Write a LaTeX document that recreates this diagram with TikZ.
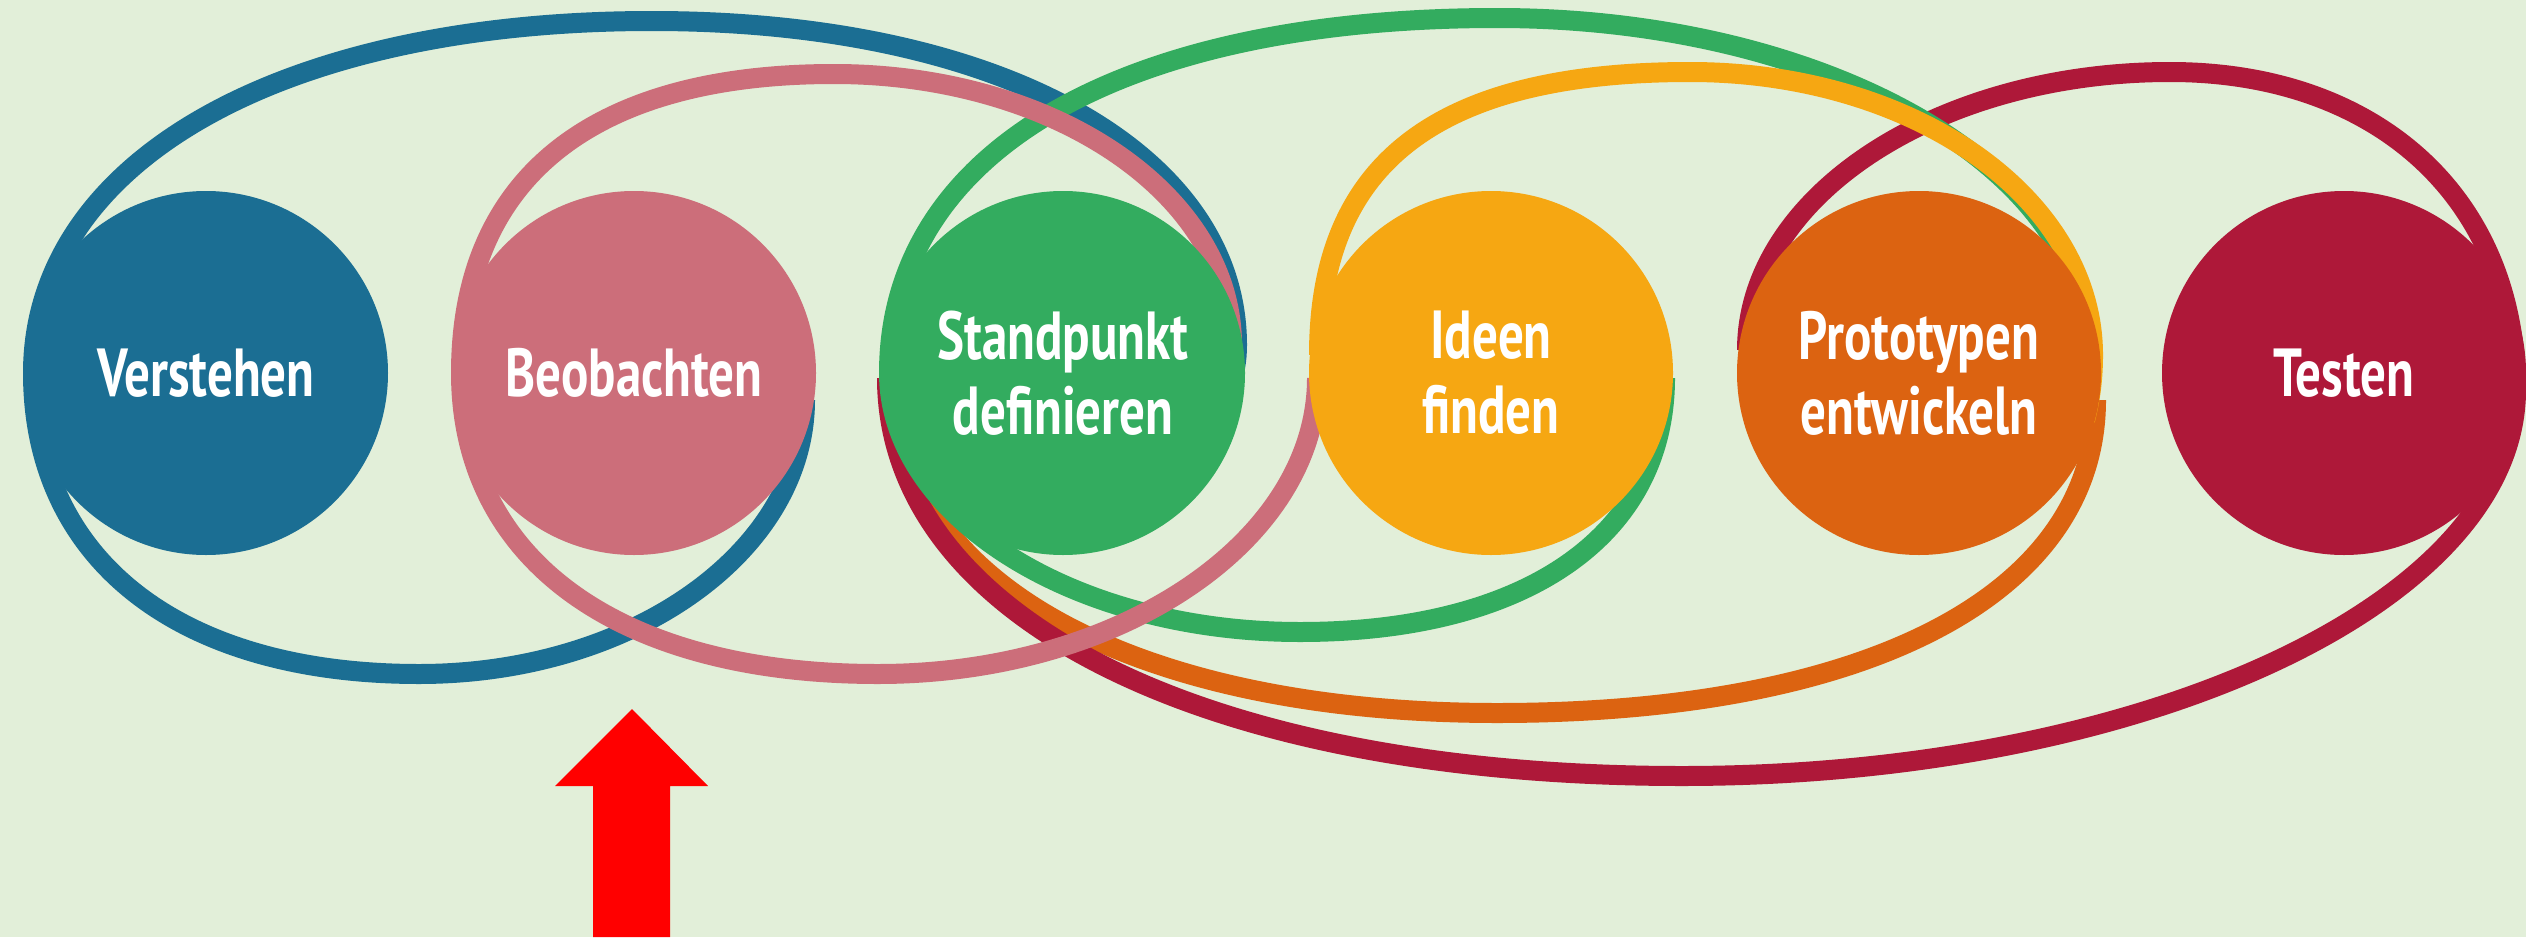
\documentclass[tikz,border=0pt]{standalone}
\usepackage{fontspec}
\setmainfont{PT Sans}
\definecolor{bgc}{HTML}{E2EFD9}
\definecolor{cblue}{HTML}{1B6E93}
\definecolor{cpink}{HTML}{CC6E7A}
\definecolor{cgreen}{HTML}{33AC5F}
\definecolor{cyellow}{HTML}{F6A712}
\definecolor{corange}{HTML}{DC6311}
\definecolor{cred}{HTML}{AE1839}
\definecolor{carrow}{HTML}{FF0000}
\begin{document}
\begin{tikzpicture}[x=1pt,y=-1pt,
  ring/.style={line width=20pt},
  phase/.style={circle, minimum size=364pt, inner sep=0pt, draw=none},
  phasetext/.style={text=white, align=center, xscale=0.75, font=\bfseries\fontsize{68}{75}\selectfont}]
\fill[bgc] (0,0) rectangle (2526,937);
\useasboundingbox (0,0) rectangle (2526,937);
% rings
\draw[ring, cblue] (805,400) .. controls (805,551) and (633,674) .. (419,674)
 .. controls (179,674) and (33,560) .. (33,373)
 .. controls (33,162) and (280,21) .. (652,21)
 .. controls (1004,21) and (1237,155) .. (1237,345)
 .. controls (1237,375) and (1228,400) .. (1200,430);
\draw[ring, corange] (2096,400) .. controls (2096,594) and (1869,713) .. (1497,713)
 .. controls (1136,713) and (896,582) .. (896,385);
\draw[ring, cred] (1747,350) .. controls (1747,197) and (1936,72) .. (2170,72)
 .. controls (2378,72) and (2516,199) .. (2516,390)
 .. controls (2516,603) and (2143,776) .. (1682,776)
 .. controls (1204,776) and (887,617) .. (887,378);
\draw[ring, cgreen] (2087,350) .. controls (2087,167) and (1824,18) .. (1497,18)
 .. controls (1119,18) and (889,153) .. (889,373)
 .. controls (889,516) and (1073,632) .. (1300,632)
 .. controls (1527,632) and (1665,535) .. (1665,378);
\draw[ring, cyellow] (1319,355) .. controls (1319,163) and (1437,72) .. (1690,72)
 .. controls (1915,72) and (2093,199) .. (2093,355)
 .. controls (2093,380) and (2090,400) .. (2085,420);
\draw[ring, cpink] (1232,345) .. controls (1232,195) and (1055,74) .. (834,74)
 .. controls (591,74) and (461,179) .. (461,373)
 .. controls (461,560) and (619,674) .. (878,674)
 .. controls (1120,674) and (1317,541) .. (1317,378);
% circles
\node[phase, fill=cblue] (verstehen) at (206,373) {};
\node[phase, fill=cpink] (beobachten) at (634,373) {};
\node[phase, fill=cgreen] (standpunkt) at (1063,373) {};
\node[phase, fill=cyellow] (ideen) at (1491,373) {};
\node[phase, fill=corange] (prototypen) at (1919,373) {};
\node[phase, fill=cred] (testen) at (2344,373) {};
% texts
\node[phasetext] (tverstehen) at (verstehen.center) {Verstehen};
\node[phasetext] (tbeobachten) at (beobachten.center) {Beobachten};
\node[phasetext] (tstandpunkt) at (standpunkt.center) {Standpunkt\\definieren};
\node[phasetext] (tideen) at (ideen.center) {Ideen\\finden};
\node[phasetext] (tprototypen) at (prototypen.center) {Prototypen\\entwickeln};
\node[phasetext] (ttesten) at (testen.center) {Testen};
% arrow
\fill[carrow] (632,709) -- (708,786) -- (670,786) -- (670,937) -- (593,937) -- (593,786) -- (555,786) -- cycle;
\end{tikzpicture}
\end{document}
